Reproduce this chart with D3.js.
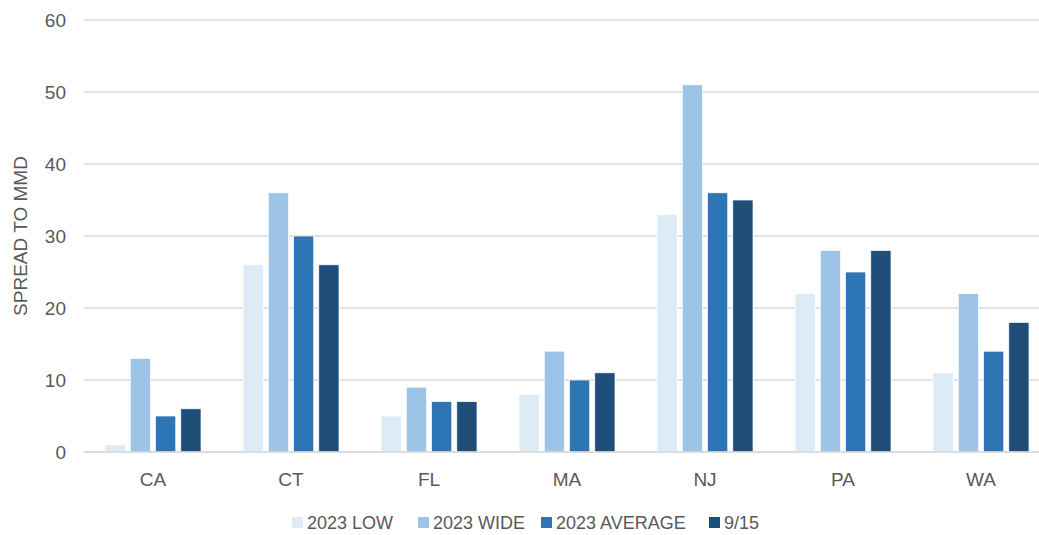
<!DOCTYPE html>
<html>
<head>
<meta charset="utf-8">
<script src="https://cdn.jsdelivr.net/npm/d3@7"></script>
<style>
  body { margin: 0; background: #fff; }
  svg text { font-family: "Liberation Sans", Arial, sans-serif; fill: #595959; }
</style>
</head>
<body>
<svg width="1039" height="535"></svg>
<script>
const states = ["CA", "CT", "FL", "MA", "NJ", "PA", "WA"];
const seriesNames = ["2023 LOW", "2023 WIDE", "2023 AVERAGE", "9/15"];
const low = [1, 26, 5, 8, 33, 22, 11];
const wide = [13, 36, 9, 14, 51, 28, 22];
const average = [5, 30, 7, 10, 36, 25, 14];
const sep15 = [6, 26, 7, 11, 35, 28, 18];
const yTicks = [0, 10, 20, 30, 40, 50, 60];
const colors = ["#ddebf7", "#9dc3e6", "#2e75b6", "#1f4e79"];

const series = [low, wide, average, sep15];

const svg = d3.select("svg");
const plotLeft = 84, plotRight = 1050, plotTop = 20, plotBottom = 452;

const x = d3.scaleBand().domain(states).range([plotLeft, plotRight]);
const xInner = d3.scaleBand().domain(d3.range(4)).range([0, 96]).paddingInner(0.2);
const y = d3.scaleLinear().domain([0, 60]).range([plotBottom, plotTop]);

// gridlines
svg.append("g")
  .selectAll("line")
  .data(yTicks)
  .join("line")
  .attr("x1", plotLeft)
  .attr("x2", plotRight)
  .attr("y1", (d) => y(d))
  .attr("y2", (d) => y(d))
  .attr("stroke", "#d9d9d9")
  .attr("stroke-width", 1.3);

// y tick labels
svg.append("g")
  .selectAll("text")
  .data(yTicks)
  .join("text")
  .attr("x", 66)
  .attr("y", (d) => y(d))
  .attr("dy", "0.35em")
  .attr("text-anchor", "end")
  .style("font-size", "19px")
  .text((d) => d);

// bars
const groups = svg.append("g")
  .selectAll("g")
  .data(states)
  .join("g")
  .attr("transform", (d) => `translate(${x(d) + (x.bandwidth() - 96) / 2},0)`);

groups.selectAll("rect")
  .data((d, i) => series.map((s, k) => ({ k, v: s[i] })))
  .join("rect")
  .attr("x", (d) => xInner(d.k))
  .attr("width", xInner.bandwidth())
  .attr("y", (d) => y(d.v))
  .attr("height", (d) => y(0) - y(d.v))
  .attr("fill", (d) => colors[d.k])
  .attr("stroke", "#fff")
  .attr("stroke-width", 0.7);

// baseline
svg.append("line")
  .attr("x1", plotLeft).attr("x2", plotRight)
  .attr("y1", y(0)).attr("y2", y(0))
  .attr("stroke", "#d9d9d9").attr("stroke-width", 1.3);

// x labels
svg.append("g")
  .selectAll("text")
  .data(states)
  .join("text")
  .attr("x", (d) => x(d) + x.bandwidth() / 2)
  .attr("y", 486)
  .attr("text-anchor", "middle")
  .style("font-size", "19px")
  .text((d) => d);

// y title
svg.append("text")
  .attr("transform", "translate(27,236) rotate(-90)")
  .attr("text-anchor", "middle")
  .style("font-size", "19px")
  .text("SPREAD TO MMD");

// legend
const legendX = [292, 418, 541, 709];
const legend = svg.append("g")
  .selectAll("g")
  .data(seriesNames)
  .join("g")
  .attr("transform", (d, i) => `translate(${legendX[i]},523)`);

legend.append("rect")
  .attr("x", 0).attr("y", -6)
  .attr("width", 11).attr("height", 11)
  .attr("fill", (d, i) => colors[i]);

legend.append("text")
  .attr("x", 15)
  .attr("dy", "0.35em")
  .style("font-size", "18px")
  .text((d) => d);
</script>
</body>
</html>
